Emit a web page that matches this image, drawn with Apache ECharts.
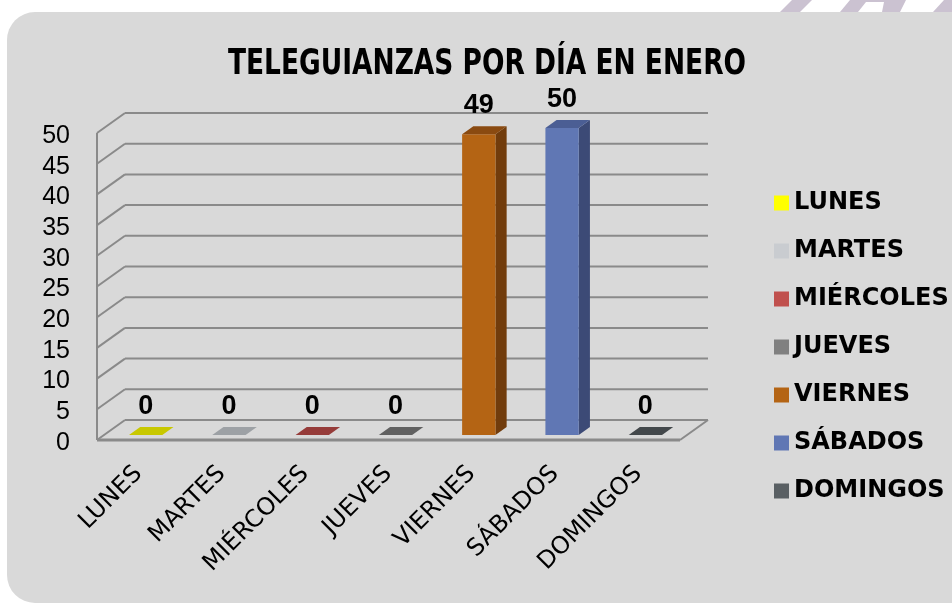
<!DOCTYPE html>
<html><head><meta charset="utf-8">
<script src="https://cdn.jsdelivr.net/npm/echarts@6/dist/echarts.min.js"></script>
<style>html,body{margin:0;padding:0;background:#fff}#c{width:952px;height:604px}</style>
</head><body><div id="c"></div>
<script>
const categories = ['LUNES','MARTES','MIÉRCOLES','JUEVES','VIERNES','SÁBADOS','DOMINGOS'];
const values = [0, 0, 0, 0, 49, 50, 0];
const yTicks = [0, 5, 10, 15, 20, 25, 30, 35, 40, 45, 50];
const titleText = 'TELEGUIANZAS POR DÍA EN ENERO';
const frontColors = ['#ffff00','#c9ccd0','#c0504d','#808080','#b46414','#6077b4','#595f63'];
const topColors   = ['#c8c800','#9da1a5','#963c3a','#616161','#8a4a10','#4b5e94','#43484b'];
const sideColors  = ['#9f9f00','#7d8083','#772f2d','#4c4c4c','#713c0c','#3c4a76','#35393b'];

// 3D projection constants (pixels)
const FRONT_OFF = [-7, 5];   // front wall relative to bar front plane
const BACK_OFF = [21, -15];  // back wall relative to bar front plane
const BAR_DEPTH = [11.2, -8];
const GRID_COLOR = '#8a8a8a';

const chart = echarts.init(document.getElementById('c'), null, {renderer:'canvas'});

const wallSeries = {
  type: 'custom', name: '_walls', silent: true, z: 1,
  data: yTicks.map(v => [0, v]),
  renderItem(params, api) {
    const cs = params.coordSys;
    const v = api.value(1);
    const y = api.coord([0, v])[1];
    const style = {stroke: GRID_COLOR, lineWidth: 2};
    const fx0 = cs.x + FRONT_OFF[0], fy = y + FRONT_OFF[1];
    const bx0 = cs.x + BACK_OFF[0], by = y + BACK_OFF[1];
    const bx1 = cs.x + cs.width + BACK_OFF[0];
    const children = [
      {type: 'line', shape: {x1: fx0, y1: fy, x2: bx0, y2: by}, style},
      {type: 'line', shape: {x1: bx0, y1: by, x2: bx1, y2: by}, style}
    ];
    if (v === 0) {
      const topY = api.coord([0, yTicks[yTicks.length - 1]])[1] + FRONT_OFF[1];
      const fx1 = cs.x + cs.width + FRONT_OFF[0];
      children.push({type: 'line', shape: {x1: fx0, y1: fy, x2: fx0, y2: topY}, style});
      children.push({type: 'line', shape: {x1: fx0, y1: fy, x2: fx1, y2: fy}, style: {stroke: GRID_COLOR, lineWidth: 3}});
      children.push({type: 'line', shape: {x1: fx1, y1: fy, x2: bx1, y2: by}, style});
    }
    return {type: 'group', children};
  }
};

const barSeries = categories.map((name, i) => ({
  type: 'custom', name, z: 3,
  itemStyle: {color: frontColors[i]},
  data: [[i, values[i]]],
  renderItem(params, api) {
    const idx = api.value(0), v = api.value(1);
    const base = api.coord([idx, 0]);
    const top = api.coord([idx, v]);
    const w = api.size([1, 0])[0] * 0.4;
    const x0 = base[0] - w / 2, x1 = base[0] + w / 2;
    const y0 = base[1], y1 = top[1];
    const dx = BAR_DEPTH[0], dy = BAR_DEPTH[1];
    return {
      type: 'group',
      children: [
        {type: 'polygon', shape: {points: [[x1, y0], [x1 + dx, y0 + dy], [x1 + dx, y1 + dy], [x1, y1]]}, style: {fill: sideColors[i]}},
        {type: 'rect', shape: {x: x0, y: y1, width: w, height: y0 - y1}, style: {fill: frontColors[i]}},
        {type: 'polygon', shape: {points: [[x0, y1], [x1, y1], [x1 + dx, y1 + dy], [x0 + dx, y1 + dy]]}, style: {fill: topColors[i]}},
        {type: 'text', x: base[0], y: y1 - 15, style: {text: String(v), fill: '#000', font: 'bold 27px "Liberation Sans", Arial, sans-serif', align: 'center', verticalAlign: 'bottom'}}
      ]
    };
  }
}));

chart.setOption({
  animation: false,
  backgroundColor: '#ffffff',
  graphic: [
    {type: 'polygon', shape: {points: [[780,12],[800,12],[812,0],[792,0]]}, style: {fill: '#cbc2d1'}, z: -20},
    {type: 'polygon', shape: {points: [[840,12],[858,12],[866,2],[884,2],[882,12],[900,12],[906,0],[850,0]]}, style: {fill: '#cbc2d1'}, z: -20},
    {type: 'polygon', shape: {points: [[933,12],[952,12],[952,0],[944,0]]}, style: {fill: '#cbc2d1'}, z: -20},
    {type: 'rect', shape: {x: 7, y: 12, width: 1000, height: 591, r: 28}, style: {fill: '#d9d9d9'}, z: -10},
    {type: 'text', x: 487, y: 65, scaleX: 0.84, style: {text: titleText, fill: '#000', font: 'bold 35px "DejaVu Sans Condensed", "DejaVu Sans", sans-serif', align: 'center', verticalAlign: 'middle'}, z: 10}
  ],
  grid: {left: 104, top: 128, width: 583, height: 307, containLabel: false},
  xAxis: {
    type: 'category', data: categories,
    axisLine: {show: false}, axisTick: {show: false}, splitLine: {show: false},
    axisLabel: {rotate: 45, interval: 0, margin: 28, padding: [0, 10, 0, 0], fontFamily: 'DejaVu Sans', fontSize: 24, color: '#000'}
  },
  yAxis: {
    type: 'value', min: 0, max: 50, interval: 5,
    axisLine: {show: false}, axisTick: {show: false}, splitLine: {show: false},
    axisLabel: {margin: 34, fontFamily: 'Liberation Sans', fontSize: 25, color: '#000', verticalAlign: 'top', lineHeight: 16}
  },
  legend: {
    orient: 'vertical', left: 769, top: 186,
    itemWidth: 15, itemHeight: 15, itemGap: 24, icon: 'rect',
    data: categories, selectedMode: false,
    textStyle: {fontFamily: 'DejaVu Sans', fontWeight: 'bold', fontSize: 24, lineHeight: 24, color: '#000'}
  },
  series: [wallSeries, ...barSeries]
});
</script>
</body></html>
